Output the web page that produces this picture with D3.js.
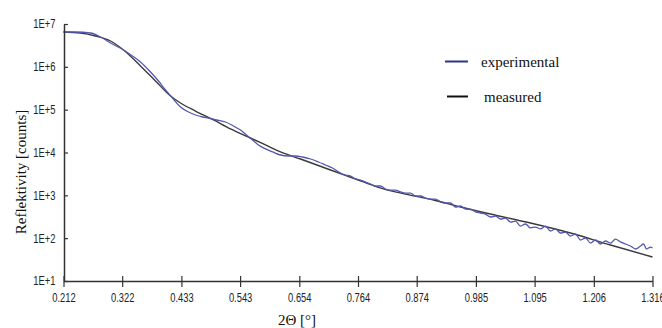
<!DOCTYPE html>
<html>
<head>
<meta charset="utf-8">
<script src="https://cdn.jsdelivr.net/npm/d3@7"></script>
<style>
  html, body { margin: 0; padding: 0; background: #fff; }
  svg { display: block; }
  .tick-label { font-family: "Liberation Sans Narrow", "Arial Narrow", "Liberation Sans", sans-serif; font-size: 12px; fill: #222; }
  .title { font-family: "Liberation Serif", "Times New Roman", serif; font-size: 15px; fill: #111; }
</style>
</head>
<body>
<svg id="chart" width="662" height="328"></svg>
<script>
// ---- data ----
const xTicks = [0.212, 0.322, 0.433, 0.543, 0.654, 0.764, 0.874, 0.985, 1.095, 1.206, 1.316];
const xTickLabels = ["0.212", "0.322", "0.433", "0.543", "0.654", "0.764", "0.874", "0.985", "1.095", "1.206", "1.316"];
const yTicks = [1e1, 1e2, 1e3, 1e4, 1e5, 1e6, 1e7];
const yTickLabels = ["1E+1", "1E+2", "1E+3", "1E+4", "1E+5", "1E+6", "1E+7"];
const seriesNames = ["experimental", "measured"];

const experimentalX = [
  0.2120, 0.2345, 0.2626, 0.2814, 0.3001, 0.3245, 0.3413, 0.3563, 0.3751, 0.3901,
  0.4032, 0.4163, 0.4313, 0.4463, 0.4594, 0.4725, 0.4838, 0.4988, 0.5157, 0.5306,
  0.5438, 0.5550, 0.5663, 0.5775, 0.5906, 0.6038, 0.6188, 0.6337, 0.6469, 0.6600,
  0.6750, 0.6900, 0.7031, 0.7162, 0.7312, 0.7406, 0.7500, 0.7593, 0.7687, 0.7781,
  0.7874, 0.7968, 0.8062, 0.8156, 0.8249, 0.8343, 0.8437, 0.8530, 0.8624, 0.8718,
  0.8812, 0.8905, 0.8999, 0.9093, 0.9187, 0.9280, 0.9374, 0.9468, 0.9561, 0.9655,
  0.9749, 0.9843, 0.9936, 1.0030, 1.0124, 1.0217, 1.0311, 1.0405, 1.0499, 1.0592,
  1.0686, 1.0780, 1.0873, 1.0967, 1.1061, 1.1155, 1.1248, 1.1342, 1.1436, 1.1529,
  1.1623, 1.1717, 1.1811, 1.1904, 1.1998, 1.2092, 1.2185, 1.2279, 1.2373, 1.2467,
  1.2560, 1.2654, 1.2748, 1.2842, 1.2935, 1.2992, 1.3048, 1.3123, 1.3160
];
const experimentalY = [
  6.5e6, 6.5e6, 6.17e6, 4.97e6, 3.6e6, 2.47e6, 1.79e6, 1.3e6, 7.57e5, 4.67e5,
  2.88e5, 1.87e5, 1.15e5, 8.82e4, 7.51e4, 6.74e4, 6.39e4, 5.74e4, 5.15e4, 4.15e4,
  3.35e4, 2.56e4, 1.96e4, 1.5e4, 1.21e4, 1.03e4, 8740, 8280, 8280, 7850,
  7050, 6000, 5110, 4340, 3320, 2980, 2830, 2410, 2280, 2050,
  1840, 1650, 1650, 1400, 1330, 1330, 1200, 1130, 1130, 964,
  964, 866, 820, 820, 698, 662, 662, 534, 563, 479,
  479, 408, 387, 366, 312, 329, 280, 295, 238, 251,
  192, 214, 173, 182, 164, 192, 147, 164, 132, 139,
  112, 125, 90.5, 101, 77.0, 90.5, 73.0, 85.8, 77.0, 95,
  82, 73.0, 65.6, 55.8, 65.6, 73.0, 55.8, 62.1, 58.9
];
const measuredX = [
  0.2120, 0.2439, 0.2720, 0.3001, 0.3245, 0.3563, 0.3844, 0.4126, 0.4313, 0.4594,
  0.4932, 0.5250, 0.5625, 0.5906, 0.6188, 0.6562, 0.7125, 0.7593, 0.8005, 0.8530,
  0.9055, 0.9561, 1.0124, 1.0873, 1.1623, 1.2373, 1.3160
];
const measuredY = [
  6.5e6, 6.17e6, 5.25e6, 4.01e6, 2.47e6, 1.05e6, 4.67e5, 2.08e5, 1.43e5, 9.3e4,
  5.74e4, 3.54e4, 2.18e4, 1.5e4, 1.03e4, 7050, 3900, 2410, 1560, 1070,
  778, 534, 366, 226, 132, 69.2, 36.3
];

// ---- drawing ----
const svg = d3.select("#chart");
const x = d3.scaleLinear().domain([0.212, 1.316]).range([63.5, 652.5]);
const y = d3.scaleLog().domain([10, 1e7]).range([281, 24]);

const axisColor = "#333";

const expData = experimentalX.map((d, i) => [d, experimentalY[i]]);
const meaData = measuredX.map((d, i) => [d, measuredY[i]]);

svg.append("path")
  .datum(meaData)
  .attr("fill", "none")
  .attr("stroke", "#3a3a3a")
  .attr("stroke-width", 1.4)
  .attr("d", d3.line().x(d => x(d[0])).y(d => y(d[1])).curve(d3.curveMonotoneX));

svg.append("path")
  .datum(expData)
  .attr("fill", "none")
  .attr("stroke", "#5258b0")
  .attr("stroke-width", 1.3)
  .attr("stroke-linejoin", "round")
  .attr("d", d3.line().x(d => x(d[0])).y(d => y(d[1])).curve(d3.curveMonotoneX));

// x axis
const xAxis = d3.axisBottom(x)
  .tickValues(xTicks)
  .tickFormat((d, i) => xTickLabels[i])
  .tickSizeInner(6)
  .tickSizeOuter(0)
  .tickPadding(6);
const gx = svg.append("g").attr("transform", "translate(0,281)").call(xAxis);
gx.select(".domain").attr("stroke", axisColor).attr("stroke-width", 1.5);
gx.selectAll(".tick line").attr("stroke", axisColor).attr("stroke-width", 1.2).attr("y1", -5);
gx.selectAll(".tick text")
  .attr("class", "tick-label").attr("font-family", null).attr("font-size", null)
  .attr("transform", "scale(0.78,1)");

// y axis
const yAxis = d3.axisLeft(y)
  .tickValues(yTicks)
  .tickFormat((d, i) => yTickLabels[i])
  .tickSizeInner(3)
  .tickSizeOuter(0)
  .tickPadding(8);
const gy = svg.append("g").attr("transform", "translate(64,0)").call(yAxis);
gy.select(".domain").attr("stroke", axisColor).attr("stroke-width", 1.5);
gy.selectAll(".tick line").attr("stroke", axisColor).attr("stroke-width", 1.2).attr("x2", 4);
gy.selectAll(".tick text")
  .attr("class", "tick-label").attr("font-family", null).attr("font-size", null)
  .attr("transform", "scale(0.78,1)");

// titles
svg.append("text").attr("class", "title")
  .attr("x", 297).attr("y", 325).attr("text-anchor", "middle")
  .text("2\u0398 [\u00b0]");
svg.append("text").attr("class", "title")
  .attr("transform", "translate(26,172) rotate(-90)")
  .attr("text-anchor", "middle")
  .text("Reflektivity [counts]");

// legend
const legendColors = ["#2b3390", "#111"];
const legendY = [61.5, 96.5];
const legendX0 = [445, 447];
const legendTextX = [481, 484];
seriesNames.forEach((name, i) => {
  svg.append("line")
    .attr("x1", legendX0[i]).attr("x2", 468)
    .attr("y1", legendY[i]).attr("y2", legendY[i])
    .attr("stroke", legendColors[i]).attr("stroke-width", 2);
  svg.append("text").attr("class", "title")
    .attr("x", legendTextX[i]).attr("y", legendY[i] + 5)
    .style("font-size", "15px")
    .text(name);
});
</script>
</body>
</html>
